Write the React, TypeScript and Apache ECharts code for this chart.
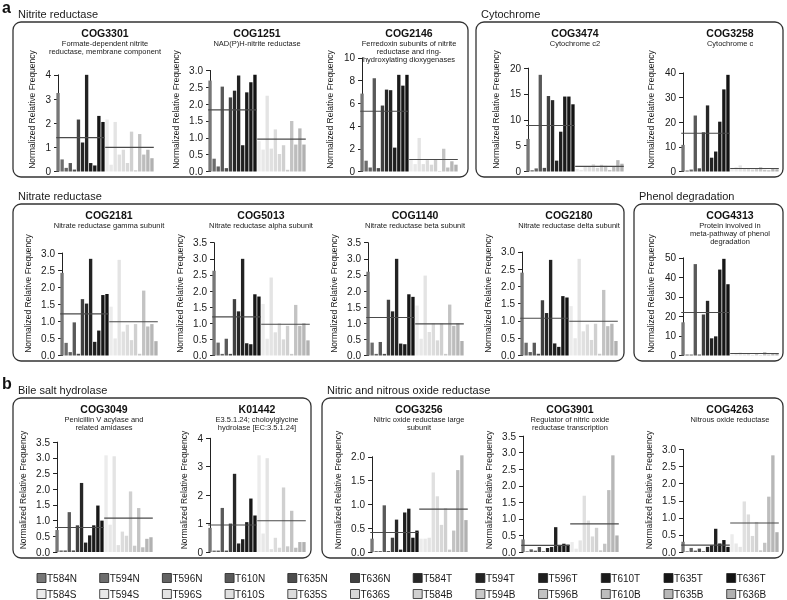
import React, { useEffect, useRef } from "react";
import * as echarts from "echarts";

// ---------- DATA ----------
const sampleNames = [
  "T584N", "T594N", "T596N", "T610N", "T635N", "T636N",
  "T584T", "T594T", "T596T", "T610T", "T635T", "T636T",
  "T584S", "T594S", "T596S", "T610S", "T635S", "T636S",
  "T584B", "T594B", "T596B", "T610B", "T635B", "T636B",
];

const cog3301 = [3.25, 0.5, 0.15, 0.35, 0.08, 2.15, 1.2, 4.0, 0.35, 0.25, 2.3, 2.05, 2.15, 0.28, 2.05, 0.7, 0.9, 0.35, 1.65, 0.05, 1.55, 0.7, 0.9, 0.55];
const cog1251 = [2.7, 0.38, 0.15, 2.52, 0.1, 2.2, 2.4, 2.85, 0.78, 2.35, 2.65, 2.87, 0.9, 0.65, 2.25, 0.68, 1.25, 0.52, 0.78, 0.05, 1.5, 0.8, 1.28, 0.8];
const cog2146 = [6.85, 0.95, 0.35, 8.2, 0.3, 5.8, 7.2, 7.15, 2.1, 8.5, 7.55, 8.5, 1.1, 0.65, 2.95, 0.65, 1.0, 0.6, 1.05, 0.05, 2.0, 0.35, 0.9, 0.6];
const cog3474 = [6.3, 0.25, 0.6, 18.7, 0.7, 14.6, 13.8, 2.1, 7.7, 14.5, 14.5, 13.0, 0.5, 0.3, 1.0, 0.9, 1.4, 0.7, 1.3, 1.1, 0.3, 0.9, 2.2, 1.5];
const cog3258 = [10.8, 0.4, 0.8, 22.7, 1.3, 15.9, 26.8, 5.6, 8.1, 20.2, 33.3, 39.2, 1.5, 1.8, 2.5, 1.0, 1.2, 0.8, 1.3, 1.8, 0.7, 0.5, 1.0, 0.9];
const cog2181 = [2.42, 0.37, 0.1, 0.97, 0.05, 1.65, 1.52, 2.83, 0.4, 0.73, 1.77, 1.8, 1.43, 0.5, 2.8, 0.7, 0.9, 0.45, 0.92, 0.05, 1.9, 0.85, 0.92, 0.42];
const cog5013 = [2.63, 0.4, 0.05, 0.52, 0.05, 1.75, 1.37, 3.0, 0.38, 0.35, 1.9, 1.83, 1.6, 0.52, 2.42, 0.72, 1.0, 0.5, 0.92, 0.05, 1.57, 0.92, 1.0, 0.47];
const cog1140 = [2.6, 0.4, 0.05, 0.42, 0.05, 1.73, 1.37, 3.0, 0.37, 0.35, 1.9, 1.82, 1.55, 0.52, 2.48, 0.73, 1.0, 0.47, 1.0, 0.05, 1.58, 0.92, 1.0, 0.45];
const cog2180 = [2.4, 0.37, 0.1, 0.37, 0.05, 1.6, 1.23, 2.77, 0.35, 0.25, 1.72, 1.68, 1.43, 0.5, 2.8, 0.7, 0.9, 0.45, 0.92, 0.05, 1.9, 0.85, 0.92, 0.42];
const cog4313 = [17, 0.5, 0.5, 46.8, 0.5, 21, 28, 8.8, 9.8, 44, 49.5, 36.5, 0.5, 1.0, 1.5, 0.6, 1.0, 0.3, 1.2, 0.2, 1.8, 0.5, 1.0, 0.8];
const cog3049 = [0.7, 0.05, 0.05, 1.27, 0.05, 0.85, 2.2, 0.3, 0.53, 0.85, 1.48, 1.0, 3.08, 0.87, 3.05, 0.22, 0.65, 0.52, 1.93, 0.2, 1.4, 0.15, 0.42, 0.47];
const k01442 = [0.85, 0.05, 0.05, 1.55, 0.05, 1.0, 2.75, 0.3, 0.45, 1.05, 1.88, 1.28, 3.4, 0.65, 3.3, 0.1, 0.5, 0.15, 2.27, 0.2, 1.45, 0.15, 0.35, 0.35];
const cog3256 = [0.28, 0.02, 0.02, 0.98, 0.02, 0.3, 0.68, 0.05, 0.83, 0.91, 0.3, 0.45, 0.28, 0.28, 0.3, 1.67, 1.17, 0.57, 0.92, 0.05, 0.45, 1.72, 2.03, 0.67];
const cog3901 = [0.38, 0.02, 0.08, 0.04, 0.15, 0.02, 0.12, 0.15, 0.75, 0.18, 0.25, 0.22, 0.3, 0.1, 0.35, 1.7, 0.95, 0.47, 0.73, 0.05, 0.25, 1.87, 2.92, 0.5];
const cog4263 = [0.3, 0.02, 0.12, 0.04, 0.1, 0.02, 0.15, 0.2, 0.68, 0.25, 0.35, 0.15, 0.52, 0.25, 0.15, 1.48, 1.1, 0.47, 0.88, 0.05, 0.27, 1.62, 2.83, 0.58];

const panelIds = ["COG3301", "COG1251", "COG2146", "COG3474", "COG3258", "COG2181", "COG5013", "COG1140", "COG2180", "COG4313", "COG3049", "K01442", "COG3256", "COG3901", "COG4263"];
const panelSubtitles = [
  "Formate-dependent nitrite\nreductase, membrane component",
  "NAD(P)H-nitrite reductase",
  "Ferredoxin subunits of nitrite\nreductase and ring-\nhydroxylating dioxygenases",
  "Cytochrome c2",
  "Cytochrome c",
  "Nitrate reductase gamma subunit",
  "Nitrate reductase alpha subunit",
  "Nitrate reductase beta subunit",
  "Nitrate reductase delta subunit",
  "Protein involved in\nmeta-pathway of phenol\ndegradation",
  "Penicillin V acylase and\nrelated amidases",
  "E3.5.1.24; choloylglycine\nhydrolase [EC:3.5.1.24]",
  "Nitric oxide reductase large\nsubunit",
  "Regulator of nitric oxide\nreductase transcription",
  "Nitrous oxide reductase",
];
const panelValues = [cog3301, cog1251, cog2146, cog3474, cog3258, cog2181, cog5013, cog1140, cog2180, cog4313, cog3049, k01442, cog3256, cog3901, cog4263];
const panelTopTick = [4, 3, 10, 20, 40, 3, 3.5, 3.5, 3, 50, 3.5, 4, 2, 3.5, 3];
const panelStep = [1, 0.5, 2, 5, 10, 0.5, 0.5, 0.5, 0.5, 10, 0.5, 1, 0.5, 0.5, 0.5];
const panelDecimals = [0, 1, 0, 0, 0, 1, 1, 1, 1, 0, 1, 0, 1, 1, 1];
const meanNT = [1.4, 1.83, 5.3, 8.9, 15.5, 1.22, 1.2, 1.18, 1.08, 22, 0.78, 0.95, 0.41, 0.2, 0.2];
const meanSB = [1.0, 0.96, 1.05, 1.0, 1.2, 0.99, 0.97, 0.98, 0.99, 1.0, 1.08, 1.1, 0.9, 0.85, 0.85];

const groupLabels = ["Nitrite reductase", "Cytochrome", "Nitrate reductase", "Phenol degradation", "Bile salt hydrolase", "Nitric and nitrous oxide reductase"];
const sectionLetters = ["a", "b"];

// ---------- STYLE / LAYOUT ----------
const sampleColors = [
  "#777777", "#6d6d6d", "#636363", "#595959", "#4d4d4d", "#414141",
  "#272727", "#232323", "#1f1f1f", "#1b1b1b", "#171717", "#131313",
  "#ececec", "#e8e8e8", "#e4e4e4", "#e0e0e0", "#dcdcdc", "#d8d8d8",
  "#d0d0d0", "#c9c9c9", "#c3c3c3", "#bdbdbd", "#b7b7b7", "#b1b1b1",
];
const FONT = "'Liberation Sans', Arial, Helvetica, sans-serif";
const TEXT = "#1a1a1a";
const TICK_FONT = 10;
const PLOT_H = 116;
const BARS_W = 98;
const rowLayout = [
  { baseline: 171.5, boxTop: 22, boxBottom: 177 },
  { baseline: 355.5, boxTop: 204, boxBottom: 361 },
  { baseline: 552, boxTop: 398, boxBottom: 558 },
];
const panelLayout = [
  { row: 0, axisX: 53 }, { row: 0, axisX: 205 }, { row: 0, axisX: 357 }, { row: 0, axisX: 523 }, { row: 0, axisX: 678 },
  { row: 1, axisX: 57 }, { row: 1, axisX: 209 }, { row: 1, axisX: 363 }, { row: 1, axisX: 517 }, { row: 1, axisX: 678 },
  { row: 2, axisX: 52 }, { row: 2, axisX: 205 }, { row: 2, axisX: 367 }, { row: 2, axisX: 518 }, { row: 2, axisX: 678 },
];
const boxLayout = [
  { row: 0, x0: 13, x1: 468 },
  { row: 0, x0: 476, x1: 783 },
  { row: 1, x0: 13, x1: 624 },
  { row: 1, x0: 634, x1: 783 },
  { row: 2, x0: 13, x1: 311 },
  { row: 2, x0: 322, x1: 783 },
];
const letterLayout = [{ x: 2, y: 7 }, { x: 2, y: 383 }];
const legendRowsY = [578, 594];
const legendX0 = 37;
const legendDX = 62.7;

// approximate width of a tick label string in px (Arial-like metrics)
function labelWidth(s: string): number {
  let w = 0;
  for (const ch of s) w += ch === "." ? 0.278 : 0.556;
  return w * TICK_FONT;
}

function buildOption() {
  const grids: any[] = [];
  const xAxes: any[] = [];
  const yAxes: any[] = [];
  const series: any[] = [];
  const graphics: any[] = [];

  boxLayout.forEach((b, k) => {
    const row = rowLayout[b.row];
    graphics.push({
      type: "rect",
      shape: { x: b.x0, y: row.boxTop, width: b.x1 - b.x0, height: row.boxBottom - row.boxTop, r: 8 },
      style: { fill: "none", stroke: "#333333", lineWidth: 1.3 },
      silent: true,
    });
    graphics.push({
      type: "text",
      x: b.x0 + 5,
      y: row.boxTop - 8.5,
      style: { text: groupLabels[k], fontSize: 11, fontFamily: FONT, fill: TEXT, align: "left", verticalAlign: "middle" },
      silent: true,
    });
  });

  sectionLetters.forEach((t, k) => {
    graphics.push({
      type: "text",
      x: letterLayout[k].x,
      y: letterLayout[k].y,
      style: { text: t, fontSize: 16, fontWeight: "bold", fontFamily: FONT, fill: "#111", align: "left", verticalAlign: "middle" },
      silent: true,
    });
  });

  panelIds.forEach((id, i) => {
    const L = panelLayout[i];
    const row = rowLayout[L.row];
    const vals = panelValues[i];
    const ylim = 1.2 * Math.max(...vals);
    const axisH = (PLOT_H * panelTopTick[i]) / ylim;
    const dec = panelDecimals[i];
    grids.push({
      left: L.axisX + 3,
      width: BARS_W,
      top: row.baseline - axisH,
      height: axisH,
      containLabel: false,
      outerBoundsMode: "none",
    });
    xAxes.push({ type: "category", gridIndex: i, data: sampleNames, show: false, boundaryGap: true });
    xAxes.push({ type: "value", gridIndex: i, min: -0.5, max: 23.5, show: false });
    yAxes.push({
      type: "value",
      gridIndex: i,
      min: 0,
      max: panelTopTick[i],
      interval: panelStep[i],
      offset: 3,
      axisLine: { show: true, lineStyle: { color: "#222", width: 1 } },
      axisTick: { show: true, length: 4, lineStyle: { color: "#222", width: 1 } },
      axisLabel: {
        fontSize: TICK_FONT,
        color: TEXT,
        margin: 2,
        fontFamily: FONT,
        formatter: (v: number) => v.toFixed(dec),
      },
      splitLine: { show: false },
    });
    series.push({
      type: "bar",
      xAxisIndex: 2 * i,
      yAxisIndex: i,
      barCategoryGap: "18%",
      clip: false,
      silent: true,
      data: vals.map((v, j) => ({ value: v, itemStyle: { color: sampleColors[j] } })),
    });
    series.push({
      type: "line",
      xAxisIndex: 2 * i + 1,
      yAxisIndex: i,
      symbol: "none",
      silent: true,
      z: 5,
      lineStyle: { color: "#4a4a4a", width: 1.1 },
      data: [[-0.45, meanNT[i]], [11.45, meanNT[i]]],
    });
    series.push({
      type: "line",
      xAxisIndex: 2 * i + 1,
      yAxisIndex: i,
      symbol: "none",
      silent: true,
      z: 5,
      lineStyle: { color: "#4a4a4a", width: 1.1 },
      data: [[11.55, meanSB[i]], [23.45, meanSB[i]]],
    });

    const cx = L.axisX + 3 + BARS_W / 2;
    graphics.push({
      type: "text",
      x: cx,
      y: row.boxTop + 10.5,
      style: { text: id, fontSize: 10.5, fontWeight: "bold", fontFamily: FONT, fill: "#111", align: "center", verticalAlign: "middle" },
      silent: true,
    });
    graphics.push({
      type: "text",
      x: cx,
      y: row.boxTop + 18,
      style: { text: panelSubtitles[i], fontSize: 7.5, lineHeight: 7.8, fontFamily: FONT, fill: TEXT, align: "center", verticalAlign: "top" },
      silent: true,
    });
    const topLabel = panelTopTick[i].toFixed(dec);
    const ylabX = L.axisX - 6 - labelWidth(topLabel) - 9.5;
    graphics.push({
      type: "text",
      x: ylabX,
      y: row.baseline - 62,
      rotation: Math.PI / 2,
      style: { text: "Normalized Relative Frequency", fontSize: 8.5, fontFamily: FONT, fill: TEXT, align: "center", verticalAlign: "middle" },
      silent: true,
    });
  });

  sampleNames.forEach((name, j) => {
    const r = j < 12 ? 0 : 1;
    const c = j % 12;
    const x = legendX0 + c * legendDX;
    const y = legendRowsY[r];
    graphics.push({
      type: "rect",
      shape: { x: x, y: y - 4.5, width: 9, height: 9 },
      style: { fill: sampleColors[j], stroke: "#222", lineWidth: 0.8 },
      silent: true,
    });
    graphics.push({
      type: "text",
      x: x + 10,
      y: y,
      style: { text: name, fontSize: 10, fontFamily: FONT, fill: TEXT, align: "left", verticalAlign: "middle" },
      silent: true,
    });
  });

  return {
    animation: false,
    backgroundColor: "#ffffff",
    grid: grids,
    xAxis: xAxes,
    yAxis: yAxes,
    series: series,
    graphic: graphics,
  };
}

export default function App() {
  const ref = useRef<HTMLDivElement>(null);
  useEffect(() => {
    if (!ref.current) return;
    const chart = echarts.init(ref.current, undefined, { renderer: "svg" });
    chart.setOption(buildOption() as any);
    return () => chart.dispose();
  }, []);
  return (
    <div
      ref={ref}
      style={{
        position: "absolute",
        left: 0,
        top: 0,
        width: 787,
        height: 600,
        background: "#fff",
        filter: "grayscale(1)",
      }}
    />
  );
}
